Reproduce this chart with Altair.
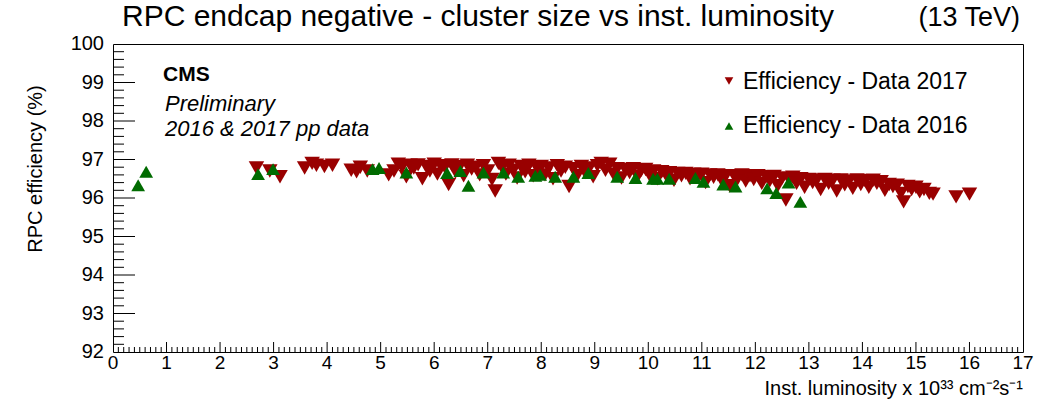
import altair as alt
import pandas as pd

# ---------------- data ----------------
lumi_2017 = [2.68, 2.93, 3.12, 3.58, 3.72, 3.80, 3.95, 4.10, 4.45, 4.55, 4.62, 4.75,
             5.15, 5.25, 5.33, 5.40, 5.48, 5.55, 5.62, 5.70, 5.78, 5.85, 5.92, 6.00,
             6.06, 6.12, 6.20, 6.27, 6.33, 6.40, 6.48, 6.55, 6.62, 6.70, 6.78, 6.85,
             6.92, 7.00, 7.08, 7.14, 7.20, 7.27, 7.34, 7.40, 7.48, 7.55, 7.62, 7.70,
             7.77, 7.85, 7.92, 8.00, 8.07, 8.14, 8.22, 8.30, 8.37, 8.45, 8.52, 8.60,
             8.67, 8.75, 8.82, 8.90, 8.97, 9.05, 9.12, 9.20, 9.28, 9.35, 9.42, 9.50,
             9.57, 9.65, 9.72, 9.80, 9.87, 9.95, 10.02, 10.10, 10.17, 10.25, 10.32, 10.40,
             10.48, 10.55, 10.62, 10.70, 10.78, 10.85, 10.92, 11.00, 11.07, 11.15, 11.22, 11.30,
             11.37, 11.45, 11.52, 11.60, 11.67, 11.75, 11.82, 11.90, 11.97, 12.05, 12.12, 12.20,
             12.27, 12.35, 12.42, 12.50, 12.57, 12.63, 12.70, 12.77, 12.85, 12.92, 13.00, 13.07,
             13.15, 13.22, 13.30, 13.37, 13.45, 13.52, 13.60, 13.67, 13.75, 13.82, 13.90, 13.97,
             14.05, 14.12, 14.20, 14.27, 14.35, 14.42, 14.50, 14.57, 14.65, 14.72, 14.77, 14.85,
             14.92, 15.00, 15.07, 15.15, 15.25, 15.32, 15.75, 16.00]
eff_2017 = [96.78, 96.70, 96.55, 96.78, 96.90, 96.85, 96.82, 96.85, 96.72, 96.68, 96.80, 96.70,
            96.60, 96.70, 96.88, 96.80, 96.55, 96.85, 96.78, 96.86, 96.50, 96.82, 96.70, 96.88,
            96.62, 96.84, 96.80, 96.35, 96.86, 96.68, 96.82, 96.58, 96.85, 96.75, 96.80, 96.60,
            96.84, 96.70, 96.48, 96.18, 96.90, 96.80, 96.62, 96.85, 96.72, 96.52, 96.82, 96.68,
            96.85, 96.58, 96.78, 96.82, 96.60, 96.78, 96.50, 96.84, 96.70, 96.80, 96.30, 96.76,
            96.58, 96.82, 96.66, 96.78, 96.55, 96.84, 96.90, 96.72, 96.88, 96.62, 96.76, 96.52,
            96.74, 96.66, 96.76, 96.56, 96.72, 96.74, 96.60, 96.70, 96.50, 96.68, 96.62, 96.66,
            96.46, 96.64, 96.58, 96.64, 96.50, 96.62, 96.55, 96.62, 96.40, 96.60, 96.54, 96.60,
            96.46, 96.58, 96.32, 96.58, 96.50, 96.60, 96.44, 96.58, 96.48, 96.58, 96.38, 96.55,
            96.45, 96.56, 96.32, 96.52, 95.95, 96.48, 96.54, 96.38, 96.50, 96.28, 96.48, 96.40,
            96.47, 96.22, 96.48, 96.38, 96.46, 96.18, 96.47, 96.34, 96.44, 96.25, 96.47, 96.35,
            96.45, 96.28, 96.46, 96.38, 96.42, 96.20, 96.35, 96.30, 96.33, 96.12, 95.90, 96.30,
            96.22, 96.28, 96.16, 96.22, 96.12, 96.10, 96.03, 96.10]

lumi_2016 = [0.47, 0.62, 2.71, 2.99, 4.85, 4.97, 5.48, 6.24, 6.49, 6.64, 6.92, 7.29,
             7.57, 7.89, 7.98, 8.26, 8.60, 8.88, 9.42, 9.76, 10.09, 10.17, 10.39, 10.88,
             11.03, 11.40, 11.63, 12.22, 12.39, 12.62, 12.84]
eff_2016 = [96.33, 96.68, 96.62, 96.75, 96.75, 96.78, 96.66, 96.65, 96.70, 96.32, 96.66, 96.66,
            96.55, 96.58, 96.60, 96.55, 96.55, 96.65, 96.55, 96.52, 96.50, 96.50, 96.50, 96.52,
            96.42, 96.35, 96.30, 96.25, 96.13, 96.40, 95.90]

x_major = list(range(0, 18))
y_major = [92, 93, 94, 95, 96, 97, 98, 99, 100]
x_minor = [round(i / 10, 1) for i in range(0, 171) if i % 10 != 0]
y_minor = [round(92 + i / 5, 1) for i in range(0, 41) if i % 5 != 0]

RED = "#990000"
GREEN = "#006b00"
FONT = "Liberation Sans"

W, H = 910, 308

xscale = alt.Scale(domain=[0, 17], nice=False, zero=False)
yscale = alt.Scale(domain=[92, 100], nice=False, zero=False)

df17 = pd.DataFrame({"lumi": lumi_2017, "eff": eff_2017})
df16 = pd.DataFrame({"lumi": lumi_2016, "eff": eff_2016})
one = pd.DataFrame({"a": [0]})

NOAX = None

# tick labels drawn as text through the scales
ylab = alt.Chart(pd.DataFrame({"v": y_major})).mark_text(
    font=FONT, fontSize=20, align="right", baseline="middle", color="black").encode(
    y=alt.Y("v:Q", scale=yscale, axis=NOAX), x=alt.value(-9), text=alt.Text("v:Q", format="d"))
xlab = alt.Chart(pd.DataFrame({"v": x_major})).mark_text(
    font=FONT, fontSize=19, align="center", baseline="top", color="black").encode(
    x=alt.X("v:Q", scale=xscale, axis=NOAX), y=alt.value(H + 2), text=alt.Text("v:Q", format="d"))

ymaj = alt.Chart(pd.DataFrame({"v": y_major[1:-1]})).mark_rule(color="black", strokeWidth=1).encode(
    y=alt.Y("v:Q", scale=yscale, axis=NOAX), x=alt.value(0), x2=alt.value(22))
ymin = alt.Chart(pd.DataFrame({"v": y_minor})).mark_rule(color="black", strokeWidth=1).encode(
    y=alt.Y("v:Q", scale=yscale, axis=NOAX), x=alt.value(0), x2=alt.value(11))
xmaj = alt.Chart(pd.DataFrame({"v": x_major[1:-1]})).mark_rule(color="black", strokeWidth=1).encode(
    x=alt.X("v:Q", scale=xscale, axis=NOAX), y=alt.value(H), y2=alt.value(H - 10))
xmin = alt.Chart(pd.DataFrame({"v": x_minor})).mark_rule(color="black", strokeWidth=1).encode(
    x=alt.X("v:Q", scale=xscale, axis=NOAX), y=alt.value(H), y2=alt.value(H - 5))

pts17 = alt.Chart(df17).mark_point(shape="triangle-down", filled=True, color=RED, opacity=1, size=240).encode(
    x=alt.X("lumi:Q", scale=xscale, axis=NOAX), y=alt.Y("eff:Q", scale=yscale, axis=NOAX))
pts16 = alt.Chart(df16).mark_point(shape="triangle-up", filled=True, color=GREEN, opacity=1, size=190).encode(
    x=alt.X("lumi:Q", scale=xscale, axis=NOAX), y=alt.Y("eff:Q", scale=yscale, axis=NOAX))


def txt(text, x, y, size, align="left", weight="normal", style="normal", angle=0, baseline="middle"):
    kw = dict(text=text, fontSize=size, font=FONT, align=align, baseline=baseline,
              fontWeight=weight, fontStyle=style, color="black")
    if angle:
        kw["angle"] = angle
    return alt.Chart(one).mark_text(**kw).encode(x=alt.value(x), y=alt.value(y))


OX, OY = 113, 44  # plot origin in page pixels

texts = [
    txt("RPC endcap negative - cluster size vs inst. luminosity", 122 - OX, 17 - OY, 30),
    txt("(13 TeV)", 1020 - OX, 18 - OY, 27, align="right"),
    txt("RPC efficiency (%)", 36 - OX, 169 - OY, 20, align="center", angle=270),
    txt("Inst. luminosity x 10³³ cm⁻²s⁻¹", 1023 - OX, 389 - OY, 20, align="right"),
    txt("CMS", 163 - OX, 75 - OY, 21, weight="bold"),
    txt("Preliminary", 165 - OX, 104 - OY, 22, style="italic"),
    txt("2016 & 2017 pp data", 165 - OX, 129 - OY, 22, style="italic"),
    txt("Efficiency - Data 2017", 743 - OX, 82 - OY, 23),
    txt("Efficiency - Data 2016", 743 - OX, 126 - OY, 23),
]

leg17 = alt.Chart(one).mark_point(shape="triangle-down", filled=True, color=RED, opacity=1, size=75).encode(
    x=alt.value(729 - OX), y=alt.value(81 - OY))
leg16 = alt.Chart(one).mark_point(shape="triangle-up", filled=True, color=GREEN, opacity=1, size=75).encode(
    x=alt.value(729 - OX), y=alt.value(126 - OY))

chart = alt.layer(ymin, ymaj, xmin, xmaj, ylab, xlab, pts17, pts16, leg17, leg16, *texts).properties(
    width=W, height=H,
    autosize=alt.AutoSizeParams(type="none"),
    padding={"left": OX, "top": OY, "right": 1039 - OX - W, "bottom": 411 - OY - H},
    background="white",
).configure_view(stroke="black", strokeWidth=1)

chart.save("out.html", embed_options={"renderer": "svg", "actions": False})
